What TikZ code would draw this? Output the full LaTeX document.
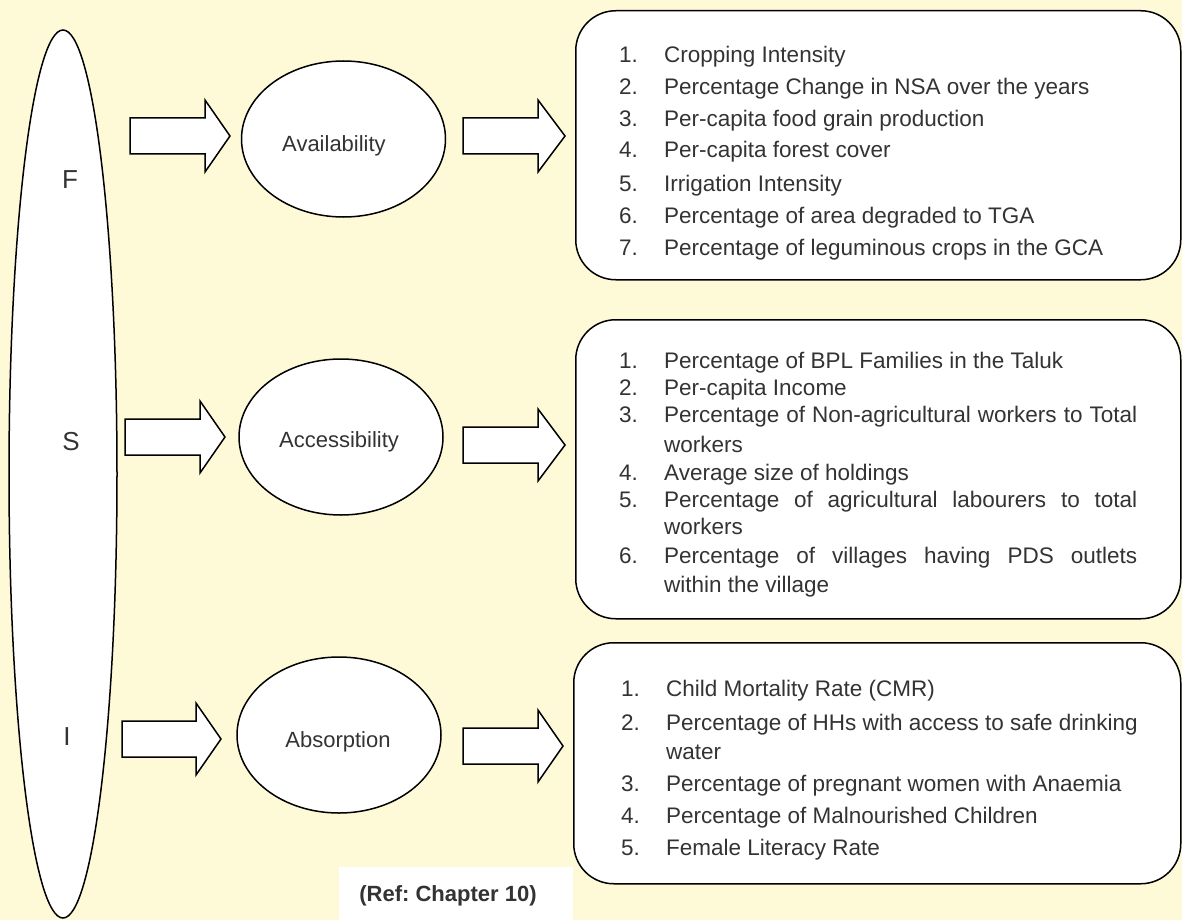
\documentclass[tikz,border=0pt]{standalone}
\usepackage{fontspec}
\setmainfont{Liberation Sans}
\usetikzlibrary{shapes.geometric}
\definecolor{bg}{HTML}{FEF9D6}
\definecolor{txt}{HTML}{333333}
\newcommand{\blockarr}[4]{%
  \draw[outline] (#1,#4-18) -- (#2,#4-18) -- (#2,#4-36) -- (#3,#4) -- (#2,#4+36) -- (#2,#4+18) -- (#1,#4+18) -- cycle;}
\frenchspacing
\begin{document}
\frenchspacing
\begin{tikzpicture}[x=1pt,y=-1pt,
  outline/.style={draw=black, line width=1.5pt, fill=white},
  oval/.style={outline, ellipse, inner sep=0pt, outer sep=0pt, minimum width=204pt, minimum height=156pt},
  listbox/.style={outline, rounded corners=40pt, anchor=north west, inner sep=0pt},
  lbl/.style={anchor=base, inner sep=0pt, text=txt, font=\fontsize{22}{26}\selectfont},
  item/.style={anchor=base west, inner sep=0pt, text=txt, font=\fontsize{22.5}{26}\selectfont},
  big/.style={inner sep=0pt, text=txt, font=\fontsize{26}{30}\selectfont}]
\fill[bg] (0,0) rectangle (1182,920);
\useasboundingbox (0,0) rectangle (1182,920);

% big ellipse
\node[outline, ellipse, inner sep=0pt, minimum width=108pt, minimum height=888pt] (fsi) at (63,474) {};
\node[big] (F) at (70,180) {F};
\node[big] (S) at (71,442) {S};
\node[big] (I) at (67,737) {I};

% middle ellipses
\node[oval] (avail) at (343.5,139) {};
\node[lbl] (availt) at (334,152) {Availability};
\node[oval] (acc) at (341,437) {};
\node[lbl] (acct) at (339,447) {Accessibility};
\node[oval] (abs) at (339,735) {};
\node[lbl] (abst) at (338,747) {Absorption};

% block arrows
\blockarr{130}{205}{230}{136}
\blockarr{125}{200}{225}{437}
\blockarr{122}{196}{221}{739}
\blockarr{463}{538}{565}{136}
\blockarr{463}{538}{565}{445}
\blockarr{463}{538}{563}{746}

% list boxes
\node[listbox, minimum width=605pt, minimum height=269pt] (box1) at (575,10) {};
\node[listbox, minimum width=605pt, minimum height=299pt] (box2) at (575,319) {};
\node[listbox, minimum width=607pt, minimum height=241pt] (box3) at (573,642) {};

% box 1
\foreach \n/\y/\t in {1/63/Cropping Intensity,
  2/95/Percentage Change in NSA over the years,
  3/127/Per-capita food grain production,
  4/158/Per-capita forest cover,
  5/191/Irrigation Intensity,
  6/223/Percentage of area degraded to TGA,
  7/255/Percentage of leguminous crops in the GCA}{
  \node[item] (a\n) at (619,\y) {\n.};
  \node[item] (at\n) at (664,\y) {\t};
}

% box 2
\node[item] (b1) at (619,368) {1.};
\node[item] (bt1) at (664,368) {Percentage of BPL Families in the Taluk};
\node[item] (b2) at (619,395) {2.};
\node[item] (bt2) at (664,395) {Per-capita Income};
\node[item] (b3) at (619,422) {3.};
\node[item] (bt3) at (664,422) {\makebox[473pt][s]{Percentage of Non-agricultural workers to Total}};
\node[item] (bt3b) at (664,452) {workers};
\node[item] (b4) at (619,480) {4.};
\node[item] (bt4) at (664,480) {Average size of holdings};
\node[item] (b5) at (619,507) {5.};
\node[item] (bt5) at (664,507) {\makebox[473pt][s]{Percentage of agricultural labourers to total}};
\node[item] (bt5b) at (664,534) {workers};
\node[item] (b6) at (619,563) {6.};
\node[item] (bt6) at (664,563) {\makebox[473pt][s]{Percentage of villages having PDS outlets}};
\node[item] (bt6b) at (664,592) {within the village};

% box 3
\node[item] (c1) at (621,696) {1.};
\node[item] (ct1) at (666,696) {Child Mortality Rate (CMR)};
\node[item] (c2) at (621,730) {2.};
\node[item] (ct2) at (666,730) {Percentage of HHs with access to safe drinking};
\node[item] (ct2b) at (666,759) {water};
\node[item] (c3) at (621,791) {3.};
\node[item] (ct3) at (666,791) {Percentage of pregnant women with Anaemia};
\node[item] (c4) at (621,823) {4.};
\node[item] (ct4) at (666,823) {Percentage of Malnourished Children};
\node[item] (c5) at (621,855) {5.};
\node[item] (ct5) at (666,855) {Female Literacy Rate};

% reference
\fill[white] (339,867) rectangle (573,920);
\node[lbl, font=\fontsize{22}{26}\selectfont\bfseries] (ref) at (448,901) {(Ref: Chapter 10)};
\end{tikzpicture}
\end{document}
